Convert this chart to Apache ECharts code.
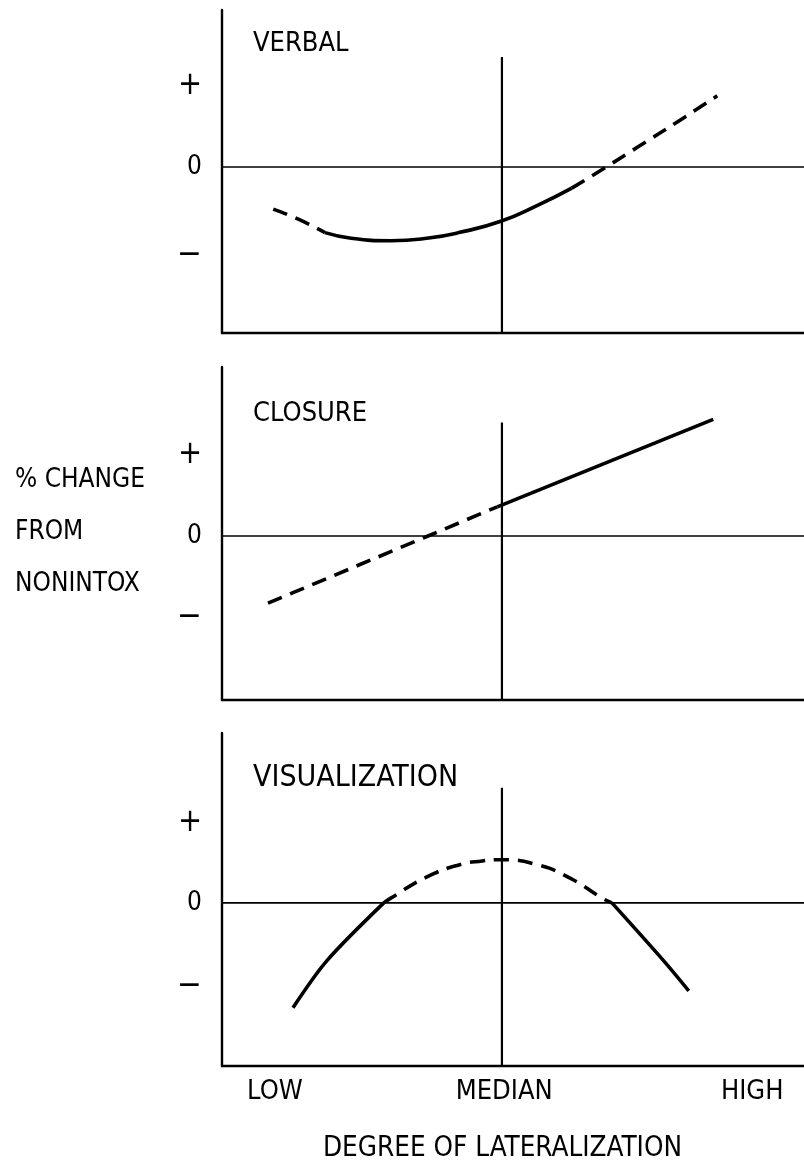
<!DOCTYPE html>
<html>
<head>
<meta charset="utf-8">
<script src="https://cdn.jsdelivr.net/npm/echarts@6/dist/echarts.min.js"></script>
<style>
  html, body { margin: 0; padding: 0; background: #fff; }
  #main { width: 804px; height: 1161px; }
</style>
</head>
<body>
<div id="main"></div>
<script>
// x runs 0 (left axis) .. 100 (right edge); y: "+" ~ 1, "0" = 0, "-" ~ -1
var xLabelPos = [9.1, 48.5, 91.1];
var xLabels = ['LOW', 'MEDIAN', 'HIGH'];
var medianX = 48.1;

var panelNames = ['VERBAL', 'CLOSURE', 'VISUALIZATION'];
var yMin = [-2.05, -2.025, -2.04];
var yMax = [1.94, 2.086, 2.125];
var minusPos = [-1.09, -1.0, -1.05];
var medianTop = [1.36, 1.40, 1.44];

var verbalX = [8.8, 13.3, 17.7, 22.2, 29.0, 35.2, 40.7, 47.9, 54.3, 60.1, 66.0, 71.5, 78.3, 85.1];
var verbalY = [-0.52, -0.65, -0.81, -0.88, -0.91, -0.88, -0.81, -0.67, -0.47, -0.26, 0, 0.25, 0.56, 0.88];
var verbalParts = [[0, 2, 'dashed'], [2, 9, 'solid'], [9, 13, 'dashed']];

var closureX = [7.9, 35.4, 47.3, 84.4];
var closureY = [-0.83, 0, 0.36, 1.44];
var closureParts = [[0, 2, 'dashed'], [2, 3, 'solid']];

var visualX = [12.2, 18.0, 27.8, 29.0, 35.2, 40.7, 44.7, 47.9, 54.3, 59.8, 65.3, 67.0, 75.9, 80.2];
var visualY = [-1.31, -0.725, 0, 0.06, 0.325, 0.475, 0.525, 0.54, 0.475, 0.31, 0.06, 0, -0.725, -1.1];
var visualParts = [[0, 2, 'solid'], [2, 11, 'dashed'], [11, 13, 'solid']];

var curves = [
  { x: verbalX, y: verbalY, parts: verbalParts },
  { x: closureX, y: closureY, parts: closureParts },
  { x: visualX, y: visualY, parts: visualParts }
];

var font = "'DejaVu Sans Condensed', 'DejaVu Sans', sans-serif";
var gridTops = [10, 367, 733];
var gridHeights = [323, 333, 333];
var nameTops = [30, 400, 764];

var myChart = echarts.init(document.getElementById('main'), null, { renderer: 'canvas' });

var grids = [], xAxes = [], yAxes = [], series = [], titles = [];

for (let i = 0; i < 3; i++) {
  grids.push({ left: 222, right: 0, top: gridTops[i], height: gridHeights[i] });
  xAxes.push({
    type: 'value', gridIndex: i, min: 0, max: 100,
    axisLine: { show: true, onZero: false, lineStyle: { color: '#000', width: 2.4 } },
    axisTick: { show: false },
    splitLine: { show: false },
    axisLabel: i === 2 ? {
      show: true, customValues: xLabelPos, margin: 12,
      color: '#000', fontFamily: font, fontSize: 27,
      formatter: function (v) {
        let k = xLabelPos.indexOf(v);
        return k >= 0 ? xLabels[k] : '';
      }
    } : { show: false }
  });
  let mp = minusPos[i];
  yAxes.push({
    type: 'value', gridIndex: i, min: yMin[i], max: yMax[i],
    axisLine: { show: true, lineStyle: { color: '#000', width: 2.4 } },
    axisTick: { show: false },
    splitLine: { show: false },
    axisLabel: {
      customValues: [1, 0, mp], margin: 20, color: '#000',
      fontFamily: font, fontSize: 26,
      formatter: function (v) {
        if (v > 0) return '{p|+}';
        if (v === 0) return '0';
        return '{m|\u2212}';
      },
      rich: {
        p: { fontSize: 32, fontFamily: font, color: '#000' },
        m: { fontSize: 33, fontFamily: font, color: '#000' }
      }
    }
  });
  titles.push({
    text: panelNames[i], left: 253, top: nameTops[i], padding: 0,
    textStyle: { fontFamily: font, fontSize: i === 2 ? 30 : 27, fontWeight: 'normal', color: '#000', lineHeight: 28 }
  });
  // zero line
  series.push({
    type: 'line', xAxisIndex: i, yAxisIndex: i, silent: true, symbol: 'none',
    data: [[0, 0], [100, 0]],
    lineStyle: { color: '#000', width: 1.6 }
  });
  // median line
  series.push({
    type: 'line', xAxisIndex: i, yAxisIndex: i, silent: true, symbol: 'none',
    data: [[medianX, yMin[i]], [medianX, medianTop[i]]],
    lineStyle: { color: '#000', width: 2.2 }
  });
  let c = curves[i];
  c.parts.forEach(function (p) {
    let pts = [];
    for (let k = p[0]; k <= p[1]; k++) pts.push([c.x[k], c.y[k]]);
    let sm = 0.5;
    if (i === 1) sm = false;
    else if (i === 2 && p[2] === 'solid') sm = 0.3;
    series.push({
      type: 'line', xAxisIndex: i, yAxisIndex: i, silent: true, symbol: 'none',
      smooth: sm,
      data: pts,
      lineStyle: { color: '#000', width: 3.6, type: p[2] === 'dashed' ? [15, 9] : 'solid', cap: 'butt', join: 'round' }
    });
  });
}

titles.push({
  text: '% CHANGE\nFROM\nNONINTOX', left: 15, top: 454, padding: 0,
  textStyle: { fontFamily: font, fontSize: 26, fontWeight: 'normal', color: '#000', lineHeight: 52 }
});
titles.push({
  text: 'DEGREE OF LATERALIZATION', left: 323, top: 1135, padding: 0,
  textStyle: { fontFamily: font, fontSize: 27.6, fontWeight: 'normal', color: '#000', lineHeight: 28 }
});

var option = {
  animation: false,
  backgroundColor: '#fff',
  title: titles,
  grid: grids,
  xAxis: xAxes,
  yAxis: yAxes,
  series: series
};
myChart.setOption(option);
</script>
</body>
</html>
